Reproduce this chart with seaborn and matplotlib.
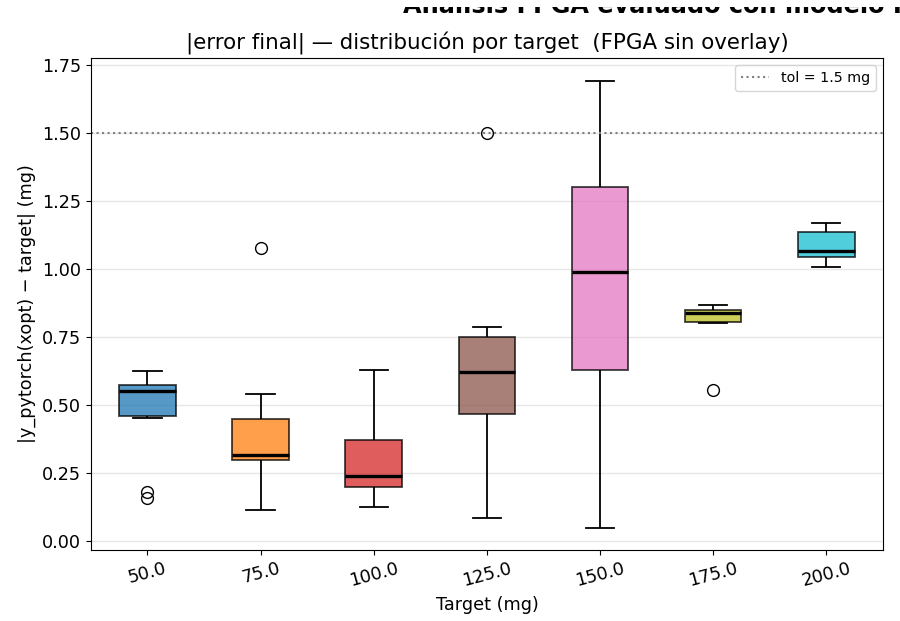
import numpy as np
import pandas as pd
import matplotlib
matplotlib.use("Agg")
import matplotlib.pyplot as plt
from matplotlib.transforms import Bbox
import seaborn as sns

targets = ["50.0", "75.0", "100.0", "125.0", "150.0", "175.0", "200.0"]
err_50 = [0.157, 0.178, 0.450, 0.459, 0.50, 0.53, 0.552, 0.56, 0.565, 0.572, 0.59, 0.61, 0.623]
err_75 = [0.114, 0.25, 0.298, 0.31, 0.317, 0.38, 0.448, 0.540, 1.079]
err_100 = [0.125, 0.17, 0.196, 0.22, 0.240, 0.30, 0.372, 0.50, 0.630]
err_125 = [0.085, 0.30, 0.468, 0.55, 0.621, 0.70, 0.749, 0.785, 1.502]
err_150 = [0.048, 0.40, 0.627, 0.80, 0.989, 1.15, 1.302, 1.50, 1.694]
err_175 = [0.553, 0.803, 0.805, 0.82, 0.838, 0.845, 0.849, 0.86, 0.869]
err_200 = [1.008, 1.03, 1.045, 1.055, 1.065, 1.10, 1.137, 1.15, 1.171]
tol = 1.5

groups = [err_50, err_75, err_100, err_125, err_150, err_175, err_200]
rows = []
for t, vals in zip(targets, groups):
    for v in vals:
        rows.append((t, v))
df = pd.DataFrame(rows, columns=["target", "err"])

tab = plt.get_cmap("tab10").colors
palette = [tab[0], tab[1], tab[3], tab[5], tab[6], tab[8], tab[9]]

fig = plt.figure(figsize=(9, 6.21), dpi=100)
ax = fig.add_axes([0.101, 0.1143, 0.880, 0.792])

sns.boxplot(data=df, x="target", y="err", hue="target", order=targets,
            hue_order=targets, palette=palette, saturation=1, width=0.5,
            linecolor="black", linewidth=1.3, legend=False, ax=ax,
            boxprops=dict(alpha=0.75),
            medianprops=dict(color="black", linewidth=2.4),
            flierprops=dict(marker="o", markerfacecolor="none",
                            markeredgecolor="black", markersize=8.5))

ax.axhline(tol, linestyle=":", color="gray", linewidth=1.5, label="tol = 1.5 mg")
ax.legend(loc="upper right", fontsize=10.3)

ax.set_axisbelow(True)
ax.yaxis.grid(True, color="#dddddd", alpha=0.7, linewidth=1)
ax.xaxis.grid(False)
ax.set_yticks([0.0, 0.25, 0.5, 0.75, 1.0, 1.25, 1.5, 1.75])
ax.tick_params(axis="x", labelrotation=15, labelsize=12.7)
ax.tick_params(axis="y", labelsize=12.7)
ax.set_xlabel("Target (mg)", fontsize=12.7)
ax.set_ylabel("|y_pytorch(xopt) \u2212 target| (mg)", fontsize=12.7)
ax.set_title("|error final| \u2014 distribuci\u00f3n por target  (FPGA sin overlay)", fontsize=15.4)

sup = fig.text(0.448, 1 - 13 / 621, "An\u00e1lisis FPGA evaluado con modelo PyTorch",
               fontsize=17.3, fontweight="bold", va="baseline", ha="left")
sup.set_clip_box(Bbox.from_extents(0, 0, 900, 621 - 7))
sup.set_clip_on(True)

fig.savefig("out.png", dpi=100)
